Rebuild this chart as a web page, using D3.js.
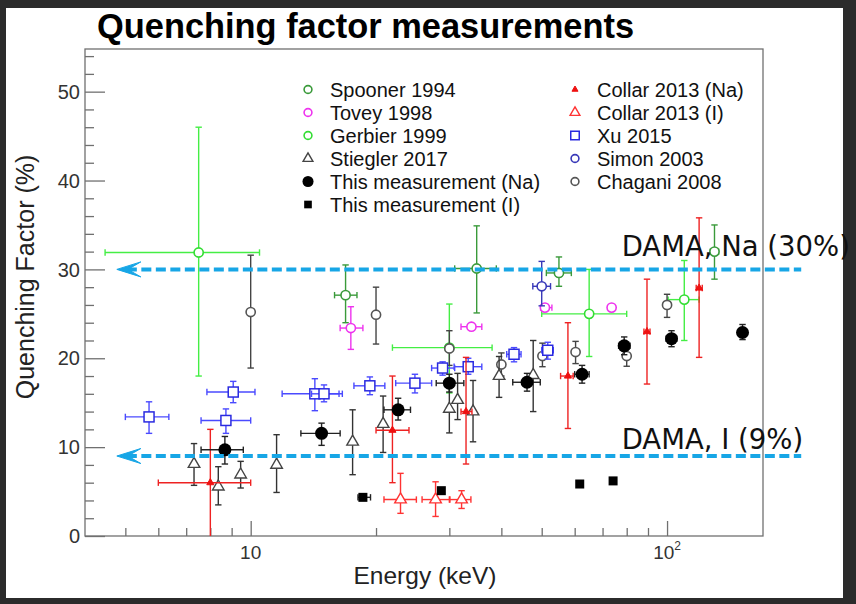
<!DOCTYPE html>
<html><head><meta charset="utf-8">
<script src="https://cdn.jsdelivr.net/npm/d3@7"></script>
<style>
html,body{margin:0;padding:0;background:#2b2b2b;}
svg{display:block;}
</style></head><body>
<svg id="c" width="856" height="604"></svg>
<script>
// ---------- tick values ----------
const xTickMajor = [10, 100];
const xTickMinor = [5, 6, 7, 8, 9, 20, 30, 40, 50, 60, 70, 80, 90];
const yTickMajor = [0, 10, 20, 30, 40, 50];
const yTickMinor = [2, 4, 6, 8, 12, 14, 16, 18, 22, 24, 26, 28, 32, 34, 36, 38, 42, 44, 46, 48, 52, 54];

// ---------- data (energy keV, quenching factor %) ----------
const spooner = [
  {e:16.9, q:27.1, qLo:24.0, qHi:30.5, eLo:15.9, eHi:18.0},
  {e:34.9, q:30.1, qLo:25.1, qHi:34.9, eLo:30.9, eHi:38.9},
  {e:55.0, q:29.6, qLo:28.1, qHi:31.4, eLo:51.3, eHi:58.9},
  {e:130,  q:32.0, qLo:28.9, qHi:35.0, eLo:127,  eHi:133}
];
const tovey = [
  {e:17.4, q:23.4, qLo:21.0, qHi:25.8, eLo:16.4, eHi:18.6},
  {e:33.9, q:23.55, qLo:23.2, qHi:23.9, eLo:32.0, eHi:35.9},
  {e:50.9, q:25.7, qLo:25.4, qHi:26.0, eLo:49.7, eHi:52.9},
  {e:73.6, q:25.7}
];
const gerbier = [
  {e:7.5,  q:31.9, qLo:18.0, qHi:46.0, eLo:4.47, eHi:10.5},
  {e:30.0, q:21.2, qLo:16.1, qHi:26.1, eLo:21.9, eHi:38.0},
  {e:65.0, q:25.0, qLo:20.2, qHi:30.0, eLo:50.0, eHi:80.0},
  {e:110,  q:26.6, qLo:22.0, qHi:31.0, eLo:100.6, eHi:119.4}
];
const stiegler = [
  {e:7.31, q:8.1,  qLo:5.7,  qHi:10.4},
  {e:8.36, q:5.55, qLo:3.5,  qHi:7.8},
  {e:9.46, q:6.9,  qLo:5.4,  qHi:8.4},
  {e:11.54, q:8.0, qLo:4.9,  qHi:11.4},
  {e:17.57, q:10.6, qLo:6.9, qHi:14.2},
  {e:20.8, q:12.6, qLo:9.4,  qHi:15.75},
  {e:30.0, q:14.3, qLo:11.6, qHi:17.2},
  {e:31.4, q:15.3, qLo:13.1, qHi:18.3},
  {e:34.2, q:14.0, qLo:10.6, qHi:17.5},
  {e:39.5, q:18.0, qLo:15.6, qHi:20.2},
  {e:47.7, q:18.1, qLo:14.0, qHi:22.0}
];
const thisNa = [
  {e:8.67, q:9.7,  qLo:8.1,  qHi:11.2, eLo:7.6,  eHi:9.6},
  {e:14.8, q:11.55, qLo:10.2, qHi:12.7, eLo:13.2, eHi:16.4},
  {e:22.6, q:14.2, qLo:13.05, qHi:15.5, eLo:20.9, eHi:24.2},
  {e:30.0, q:17.2, qLo:16.2, qHi:18.2, eLo:27.9, eHi:32.5},
  {e:46.1, q:17.3, qLo:16.3, qHi:18.3, eLo:42.6, eHi:49.6},
  {e:62.5, q:18.2, qLo:17.2, qHi:19.2, eLo:60.0, eHi:65.0},
  {e:78.9, q:21.4, qLo:20.4, qHi:22.4, eLo:76.5, eHi:81.5},
  {e:102.5, q:22.2, qLo:21.3, qHi:23.1, eLo:99.5, eHi:105.5},
  {e:151.8, q:22.9, qLo:22.1, qHi:23.8}
];
const thisI = [
  {e:18.6, q:4.35, eLo:18.1, eHi:19.4},
  {e:28.7, q:5.1},
  {e:61.7, q:5.85},
  {e:74.2, q:6.2}
];
const collarNa = [
  {e:8.0,  q:6.0,  qLo:-1,   qHi:12.0, eLo:6.0,  eHi:10.0},
  {e:21.9, q:11.9, qLo:6.0,  qHi:18.0, eLo:20.0, eHi:24.0},
  {e:32.9, q:14.0, qLo:8.1,  qHi:20.1, eLo:32.0, eHi:34.0},
  {e:57.8, q:18.0, qLo:12.1, qHi:24.0, eLo:55.5, eHi:59.5},
  {e:89.5, q:23.0, qLo:17.1, qHi:28.9, eLo:88.0, eHi:91.0},
  {e:119.4, q:27.9, qLo:20.1, qHi:35.8, eLo:117.5, eHi:121.5}
];
const collarI = [
  {e:22.9, q:4.1, qLo:2.55, qHi:7.05, eLo:20.9, eHi:25.0},
  {e:27.8, q:4.1, qLo:2.2,  qHi:6.1,  eLo:25.8, eHi:30.0},
  {e:32.1, q:4.1, qLo:3.1,  qHi:5.1,  eLo:30.1, eHi:33.8}
];
const xu = [
  {e:5.7,  q:13.4, qLo:11.55, qHi:15.1, eLo:5.0,  eHi:6.36},
  {e:8.72, q:13.0, qLo:11.55, qHi:14.3, eLo:7.6,  eHi:10.0},
  {e:9.08, q:16.2, qLo:15.0, qHi:17.4, eLo:7.85, eHi:10.24},
  {e:14.26, q:16.0, qLo:14.1, qHi:17.7, eLo:11.9, eHi:16.6},
  {e:15.0, q:16.0, qLo:15.1, qHi:17.0, eLo:14.0, eHi:16.3},
  {e:19.33, q:16.9, qLo:15.9, qHi:17.9, eLo:17.7, eHi:21.0},
  {e:24.8, q:17.2, qLo:16.1, qHi:18.2, eLo:22.3, eHi:27.2},
  {e:28.9, q:18.9, qLo:18.1, qHi:19.6, eLo:27.2, eHi:30.9},
  {e:33.3, q:19.05, qLo:18.2, qHi:20.0, eLo:30.8, eHi:35.9},
  {e:42.9, q:20.45, qLo:19.6, qHi:21.2, eLo:41.2, eHi:44.6},
  {e:51.7, q:20.9, qLo:19.9, qHi:21.8, eLo:50.0, eHi:53.3}
];
const simon = [
  {e:50.0, q:28.1, qLo:25.9, qHi:30.9, eLo:47.6, eHi:52.5}
];
const chagani = [
  {e:10.0, q:25.2, qLo:18.9, qHi:31.6},
  {e:20.0, q:24.9, qLo:21.6, qHi:28.0},
  {e:30.0, q:21.1, qLo:19.2, qHi:23.1},
  {e:40.0, q:19.3, qLo:18.0, qHi:20.6},
  {e:50.2, q:20.25, qLo:19.05, qHi:21.7},
  {e:60.3, q:20.7, qLo:19.4, qHi:21.9},
  {e:80.0, q:20.25, qLo:19.1, qHi:21.0},
  {e:100,  q:26.0, qLo:24.6, qHi:27.2}
];

// DAMA reference levels
const damaLevels = [30, 9];
const damaLabels = ["DAMA, Na (30%)", "DAMA, I (9%)"];
const damaLabelQ = [31.5, 9.8];
const damaLabelE = 77.8;
const damaRangeE = [4.77, 210];

// ---------- styles ----------
const styles = {
  spooner:  {name:"Spooner 1994", data:spooner, shape:"circle", fill:"#fff", stroke:"#3a9a3a", err:"#3a9a3a"},
  tovey:    {name:"Tovey 1998", data:tovey, shape:"circle", fill:"#fff", stroke:"#ee33ee", err:"#ee33ee"},
  gerbier:  {name:"Gerbier 1999", data:gerbier, shape:"circle", fill:"#fff", stroke:"#33dd33", err:"#44ee44"},
  stiegler: {name:"Stiegler 2017", data:stiegler, shape:"triangle", fill:"#fff", stroke:"#444", err:"#333"},
  thisNa:   {name:"This measurement (Na)", data:thisNa, shape:"bigdot", fill:"#000", stroke:"#000", err:"#222"},
  thisI:    {name:"This measurement (I)", data:thisI, shape:"fsquare", fill:"#000", stroke:"#000", err:"#222"},
  collarNa: {name:"Collar 2013 (Na)", data:collarNa, shape:"ftriangle", fill:"#ee1111", stroke:"#ee1111", err:"#ee2222"},
  collarI:  {name:"Collar 2013 (I)", data:collarI, shape:"triangle", fill:"#fff", stroke:"#ff3333", err:"#ff3333"},
  xu:       {name:"Xu 2015", data:xu, shape:"square", fill:"#fff", stroke:"#2a2ae0", err:"#4a4aff"},
  simon:    {name:"Simon 2003", data:simon, shape:"circle", fill:"#fff", stroke:"#3838b8", err:"#3838b8"},
  chagani:  {name:"Chagani 2008", data:chagani, shape:"circle", fill:"#fff", stroke:"#555", err:"#444"}
};
const drawOrder = ["gerbier","spooner","tovey","simon","chagani","stiegler","xu","collarI","collarNa","thisI","thisNa"];
const legendCol1 = ["spooner","tovey","gerbier","stiegler","thisNa","thisI"];
const legendCol2 = ["collarNa","collarI","xu","simon","chagani"];

// ---------- layout ----------
const W = 856, H = 604;
const L = 85, R = 763, T = 49, B = 536;
const svg = d3.select("#c");
svg.append("rect").attr("x",6).attr("y",8).attr("width",837).attr("height",590).attr("fill","#fff");

const x = d3.scaleLog().domain([4, 170]).range([L, R]);
const y = d3.scaleLinear().domain([0, 54.8]).range([B, T]);

// title
svg.append("text").attr("x",97).attr("y",38)
  .attr("font-family","'Liberation Sans', Arial, sans-serif").attr("font-weight","bold")
  .attr("font-size",34.4).attr("fill","#000").text("Quenching factor measurements");

// axes ticks
const axisColor = "#707070";
function styleAxis(g){
  g.select(".domain").remove();
  g.selectAll(".tick line").attr("stroke",axisColor).attr("stroke-width",1.3);
  g.selectAll(".tick text").remove();
}
svg.append("g").attr("transform",`translate(0,${B})`)
  .call(d3.axisBottom(x).tickValues(xTickMajor).tickSize(-15).tickFormat(""))
  .call(styleAxis);
svg.append("g").attr("transform",`translate(0,${B})`)
  .call(d3.axisBottom(x).tickValues(xTickMinor).tickSize(-8).tickFormat(""))
  .call(styleAxis);
svg.append("g").attr("transform",`translate(${L},0)`)
  .call(d3.axisLeft(y).tickValues(yTickMajor).tickSize(-20).tickFormat(""))
  .call(styleAxis);
svg.append("g").attr("transform",`translate(${L},0)`)
  .call(d3.axisLeft(y).tickValues(yTickMinor).tickSize(-9).tickFormat(""))
  .call(styleAxis);

// frame
svg.append("rect").attr("x",L).attr("y",T).attr("width",R-L).attr("height",B-T)
  .attr("fill","none").attr("stroke",axisColor).attr("stroke-width",1.3);

// tick labels
const lblFont = "'Liberation Sans', Arial, Helvetica, sans-serif";
svg.append("g").selectAll("text").data(yTickMajor).join("text")
  .attr("x", L-5).attr("y", d => y(d)).attr("dy","0.36em")
  .attr("text-anchor","end").attr("font-family",lblFont).attr("font-size",20).attr("fill","#333")
  .text(d => d);
const xl = svg.append("g").selectAll("text").data(xTickMajor).join("text")
  .attr("x", d => x(d)).attr("y", 559)
  .attr("text-anchor","middle").attr("font-family",lblFont).attr("font-size",19).attr("fill","#333");
xl.each(function(d){
  const t = d3.select(this);
  if (d === 10) t.text("10");
  else { t.append("tspan").text("10"); t.append("tspan").attr("font-size",12).attr("dy",-9).text("2"); }
});

// axis titles
svg.append("text").attr("x",425).attr("y",584).attr("text-anchor","middle")
  .attr("font-family",lblFont).attr("font-size",24.5).attr("fill","#222").text("Energy (keV)");
svg.append("text").attr("transform","translate(34,277) rotate(-90)").attr("text-anchor","middle")
  .attr("font-family",lblFont).attr("font-size",25).attr("fill","#222").text("Quenching Factor (%)");

// clip for data
svg.append("clipPath").attr("id","plotclip").append("rect")
  .attr("x",L).attr("y",T).attr("width",R-L).attr("height",B-T);

function drawMarker(g, shape, cx, cy, st, legend){
  const s = legend ? 0.85 : 1;
  if (shape === "circle") {
    g.append("circle").attr("cx",cx).attr("cy",cy).attr("r",4.6*s)
      .attr("fill",st.fill).attr("stroke",st.stroke).attr("stroke-width",1.6);
  } else if (shape === "bigdot") {
    g.append("circle").attr("cx",cx).attr("cy",cy).attr("r",6.5*s).attr("fill",st.fill);
  } else if (shape === "square") {
    const h = 5*s;
    g.append("rect").attr("x",cx-h).attr("y",cy-h).attr("width",2*h).attr("height",2*h)
      .attr("fill",st.fill).attr("stroke",st.stroke).attr("stroke-width",1.5);
  } else if (shape === "fsquare") {
    const h = 4.5*s;
    g.append("rect").attr("x",cx-h).attr("y",cy-h).attr("width",2*h).attr("height",2*h).attr("fill",st.fill);
  } else if (shape === "triangle") {
    const area = 58*s*s;
    g.append("path").attr("transform",`translate(${cx},${cy})`)
      .attr("d", d3.symbol(d3.symbolTriangle, area)())
      .attr("fill",st.fill).attr("stroke",st.stroke).attr("stroke-width",1.4);
  } else if (shape === "ftriangle") {
    const area = 22*s*s;
    g.append("path").attr("transform",`translate(${cx},${cy})`)
      .attr("d", d3.symbol(d3.symbolTriangle, area)())
      .attr("fill",st.fill).attr("stroke",st.stroke).attr("stroke-width",1);
  }
}

const dataG = svg.append("g").attr("clip-path","url(#plotclip)");
const cap = 3.2;
drawOrder.forEach(key => {
  const st = styles[key];
  const g = dataG.append("g");
  st.data.forEach(d => {
    const cx = x(d.e), cy = y(d.q);
    const eg = g.append("g").attr("stroke",st.err).attr("stroke-width",1.4).attr("fill","none");
    if (d.qLo !== undefined) {
      const y1 = y(d.qLo), y2 = y(d.qHi);
      eg.append("line").attr("x1",cx).attr("x2",cx).attr("y1",y1).attr("y2",y2);
      eg.append("line").attr("x1",cx-cap).attr("x2",cx+cap).attr("y1",y1).attr("y2",y1);
      eg.append("line").attr("x1",cx-cap).attr("x2",cx+cap).attr("y1",y2).attr("y2",y2);
    }
    if (d.eLo !== undefined) {
      const x1 = x(d.eLo), x2 = x(d.eHi);
      eg.append("line").attr("x1",x1).attr("x2",x2).attr("y1",cy).attr("y2",cy);
      eg.append("line").attr("x1",x1).attr("x2",x1).attr("y1",cy-cap).attr("y2",cy+cap);
      eg.append("line").attr("x1",x2).attr("x2",x2).attr("y1",cy-cap).attr("y2",cy+cap);
    }
    drawMarker(g, st.shape, cx, cy, st, false);
  });
});

// legend
const legFont = "'Liberation Sans', Arial, Helvetica, sans-serif";
function drawLegendCol(keys, mx, tx){
  keys.forEach((k,i) => {
    const cy = 89.5 + 23*i;
    const st = styles[k];
    drawMarker(svg, st.shape, mx, cy, st, true);
    svg.append("text").attr("x",tx).attr("y",cy+7).attr("font-family",legFont)
      .attr("font-size",20).attr("fill","#111").text(st.name);
  });
}
drawLegendCol(legendCol1, 308, 330);
drawLegendCol(legendCol2, 575, 597);

// DAMA lines
const damaColor = "#17a6e6";
damaLevels.forEach((lv,i) => {
  const yy = y(lv);
  const xt = x(damaRangeE[0]);
  svg.append("line").attr("x1",xt+10).attr("x2",x(damaRangeE[1])).attr("y1",yy).attr("y2",yy)
    .attr("stroke",damaColor).attr("stroke-width",4).attr("stroke-dasharray","10,4.5");
  svg.append("path")
    .attr("d",`M${xt},${yy} L${xt+24},${yy-7.5} L${xt+11},${yy} L${xt+24},${yy+7.5} Z`)
    .attr("fill",damaColor).attr("stroke",damaColor).attr("stroke-width",1).attr("stroke-linejoin","miter");
  svg.append("text").attr("x",x(damaLabelE)).attr("y",y(damaLabelQ[i]))
    .attr("font-family","'DejaVu Sans', sans-serif").attr("font-size",27.5).attr("fill","#111")
    .text(damaLabels[i]);
});
</script>
</body></html>
